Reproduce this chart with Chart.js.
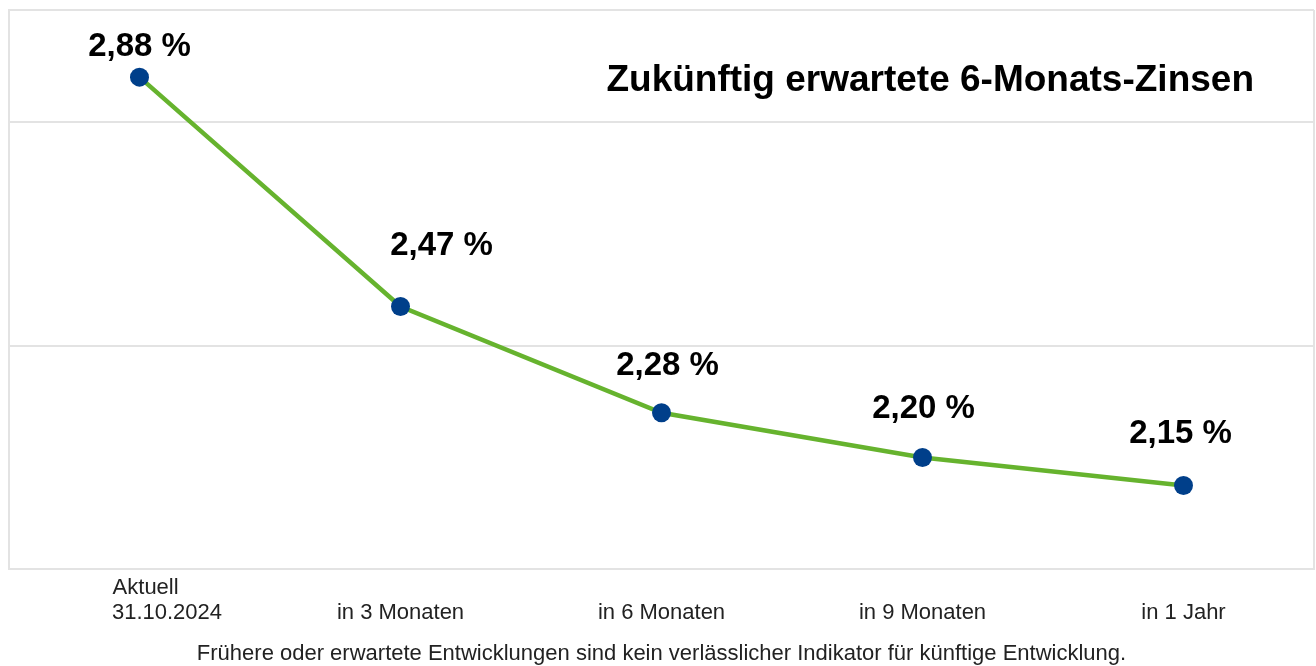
<!DOCTYPE html>
<html>
<head>
<meta charset="utf-8">
<script src="https://cdn.jsdelivr.net/npm/chart.js@4/dist/chart.umd.min.js"></script>
<style>
  body { margin: 0; background: #fff; overflow: hidden; }
  #wrap { width: 1316px; height: 666px; }
</style>
</head>
<body>
<div id="wrap"><canvas id="zinsChart"></canvas></div>
<script>
// chart data
const categories = [["Aktuell", "31.10.2024"], "in 3 Monaten", "in 6 Monaten", "in 9 Monaten", "in 1 Jahr"];
const rates = [2.88, 2.47, 2.28, 2.20, 2.15];
const yTicks = [2.0, 2.4, 2.8, 3.0];

const chartTitle = "Zukünftig erwartete 6-Monats-Zinsen";
const footNote = "Frühere oder erwartete Entwicklungen sind kein verlässlicher Indikator für künftige Entwicklung.";

const FONT = "'Liberation Sans', Arial, Helvetica, sans-serif";
const GRID = '#e3e3e3';

// label offsets relative to each point (dx, dy)
const labelShift = [[0, -30], [41, -61], [6, -47], [1, -49], [-3, -52]];

const fmt = v => v.toFixed(2).replace('.', ',') + ' %';
const nb = n => '\u00A0'.repeat(n);

// draws right frame line, value labels and the inner title
const overlayPlugin = {
    id: 'overlay',
    beforeDatasetsDraw(chart) {
        const a = chart.chartArea;
        const ctx = chart.ctx;
        ctx.save();
        ctx.strokeStyle = GRID;
        ctx.lineWidth = 2;
        ctx.beginPath();
        ctx.moveTo(a.right, a.top);
        ctx.lineTo(a.right, a.bottom);
        ctx.stroke();
        ctx.restore();
    },
    afterDatasetsDraw(chart) {
        const ctx = chart.ctx;
        const meta = chart.getDatasetMeta(0);
        ctx.save();
        ctx.fillStyle = '#000';
        ctx.font = 'bold 33px ' + FONT;
        ctx.textAlign = 'center';
        ctx.textBaseline = 'middle';
        meta.data.forEach((pt, i) => {
            const s = labelShift[i];
            ctx.fillText(fmt(rates[i]), pt.x + s[0], pt.y + s[1]);
        });
        const area = chart.chartArea;
        ctx.textAlign = 'right';
        ctx.font = 'bold 37px ' + FONT;
        ctx.fillText(chartTitle, area.right - 60, 81);
        ctx.restore();
    }
};

new Chart(document.getElementById("zinsChart"), {
    type: 'line',
    data: {
        labels: categories,
        datasets: [{
            data: rates,
            borderColor: '#66b32e',
            borderWidth: 4.5,
            pointBackgroundColor: '#003f8a',
            pointBorderColor: '#003f8a',
            pointRadius: 9.5,
            pointBorderWidth: 0,
            tension: 0,
            clip: false
        }]
    },
    options: {
        responsive: true,
        maintainAspectRatio: false,
        animation: false,
        layout: { autoPadding: false, padding: { left: 9, top: 10, right: 2, bottom: 0 } },
        plugins: {
            legend: { display: false },
            tooltip: { enabled: false },
            title: {
                display: true,
                position: 'bottom',
                text: footNote,
                color: '#222',
                font: { family: FONT, size: 22, weight: 'normal', lineHeight: 0.7 },
                padding: { top: 23, bottom: 4 }
            }
        },
        scales: {
            x: {
                offset: true,
                grid: { display: false },
                border: { display: true, color: GRID, width: 2 },
                ticks: {
                    color: '#222',
                    font: { family: FONT, size: 22, lineHeight: 1.14 },
                    padding: -2,
                    maxRotation: 0,
                    autoSkip: false,
                    callback: (val, i) => {
                        const lab = categories[i];
                        if (Array.isArray(lab)) {
                            return [nb(9) + lab[0] + nb(7), nb(9) + lab[1]];
                        }
                        return ["", lab];
                    }
                }
            },
            y: {
                min: 2,
                max: 3,
                afterBuildTicks: axis => { axis.ticks = yTicks.map(v => ({ value: v })); },
                ticks: { display: false },
                grid: { color: GRID, lineWidth: 2, drawTicks: false },
                border: { display: true, color: GRID, width: 2 }
            }
        }
    },
    plugins: [overlayPlugin]
});
</script>
</body>
</html>
